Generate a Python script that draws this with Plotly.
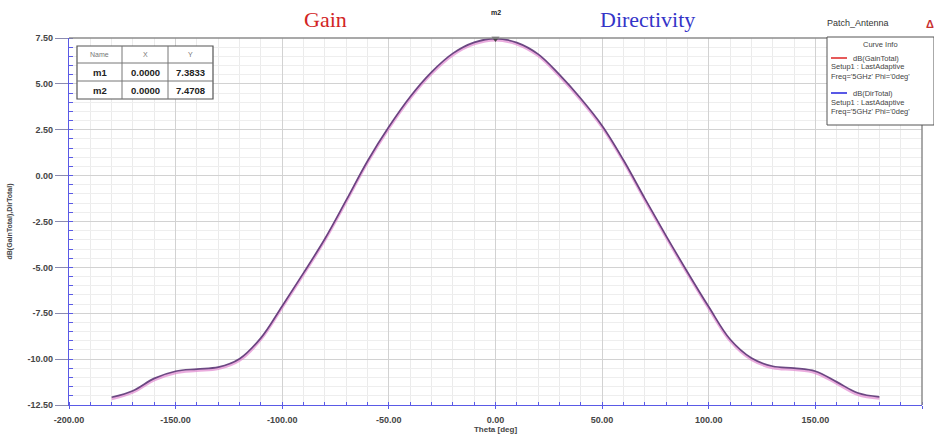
import plotly.graph_objects as go

# Far-field cut of the patch antenna, Phi = 0 deg, 5 GHz
theta_deg = [-180, -170, -160, -150, -140, -130, -120, -110, -100, -90,
             -80, -70, -60, -50, -40, -30, -20, -10, 0, 10,
             20, 30, 40, 50, 60, 70, 80, 90, 100, 110,
             120, 130, 140, 150, 160, 170, 180]

gain_total_db = [-12.17, -11.81, -11.14, -10.75, -10.63, -10.53, -10.07, -8.93, -7.19, -5.39,
                 -3.53, -1.43, 0.71, 2.57, 4.21, 5.55, 6.57, 7.17, 7.3833, 7.16,
                 6.53, 5.41, 4.11, 2.63, 0.76, -1.33, -3.37, -5.34, -7.24, -9.01,
                 -10.03, -10.48, -10.58, -10.75, -11.33, -11.94, -12.15]

dir_total_db = [-12.08, -11.72, -11.05, -10.66, -10.54, -10.44, -9.98, -8.84, -7.10, -5.30,
                -3.44, -1.34, 0.80, 2.66, 4.30, 5.64, 6.66, 7.26, 7.4708, 7.25,
                6.62, 5.50, 4.20, 2.72, 0.85, -1.24, -3.28, -5.25, -7.15, -8.92,
                -9.94, -10.39, -10.49, -10.66, -11.24, -11.85, -12.06]

# Marker table
marker_names = ["m1", "m2"]
marker_x = [0.0, 0.0]
marker_y = [7.3833, 7.4708]

# Axis ticks
x_ticks = [-200, -150, -100, -50, 0, 50, 100, 150, 200]
y_ticks = [7.5, 5.0, 2.5, 0.0, -2.5, -5.0, -7.5, -10.0, -12.5]

W, H = 934, 434
L, R, T, B = 69, 922, 38, 405  # plot area in page pixels


def px(x):
    return (x - L) / (R - L)


def py(y):
    return (B - y) / (B - T)


AXIS_BLUE = "#5a5ae6"
TXT = "#454545"
FONT = "Arial"


def note(text, x, y, size, color, xanchor="center", family=FONT):
    return dict(text=text, xref="paper", yref="paper", x=px(x), y=py(y),
                xanchor=xanchor, yanchor="middle", showarrow=False,
                font=dict(family=family, size=size, color=color))


fig = go.Figure()

fig.add_trace(go.Scatter(
    x=theta_deg, y=gain_total_db, mode="lines", name="dB(GainTotal)",
    line=dict(color="rgba(222,128,205,0.65)", width=2.6, shape="spline", smoothing=1.0),
    hoverinfo="x+y"))
fig.add_trace(go.Scatter(
    x=theta_deg, y=dir_total_db, mode="lines", name="dB(DirTotal)",
    line=dict(color="rgba(96,58,120,0.92)", width=1.7, shape="spline", smoothing=1.0),
    hoverinfo="x+y"))

# m2 marker on the directivity peak
fig.add_trace(go.Scatter(
    x=[marker_x[1]], y=[marker_y[1]], mode="markers",
    marker=dict(symbol="triangle-down", size=7, color="#444444"),
    cliponaxis=False, hoverinfo="skip"))

fig.update_layout(
    width=W, height=H,
    margin=dict(l=L, r=W - R, t=T, b=H - B),
    paper_bgcolor="white", plot_bgcolor="white",
    showlegend=False,
    font=dict(family=FONT, size=8, color=TXT),
)

fig.update_xaxes(
    range=[-200, 200], automargin=False,
    tickvals=x_ticks, ticktext=["<b>%.2f</b>" % v for v in x_ticks],
    tickfont=dict(family=FONT, size=9, color=TXT),
    ticklabelstandoff=3,
    showline=True, linecolor=AXIS_BLUE, linewidth=1.2,
    ticks="outside", ticklen=3, tickcolor=AXIS_BLUE,
    showgrid=True, gridcolor="#d2d2d2", gridwidth=1,
    minor=dict(dtick=10, showgrid=True, gridcolor="#ebebeb",
               ticks="inside", ticklen=3, tickcolor=AXIS_BLUE),
    zeroline=False,
    title=dict(text="<b>Theta [deg]</b>", font=dict(family=FONT, size=8, color=TXT), standoff=0),
)

fig.update_yaxes(
    range=[-12.5, 7.5], automargin=False,
    tickvals=y_ticks, ticktext=["<b>%.2f</b>" % v for v in y_ticks],
    tickfont=dict(family=FONT, size=9, color=TXT),
    showline=True, linecolor=AXIS_BLUE, linewidth=1.2,
    ticks="outside", ticklen=13, tickcolor="#8a8ab0",
    showgrid=True, gridcolor="#d2d2d2", gridwidth=1,
    minor=dict(dtick=0.5, showgrid=True, gridcolor="#eeeeee",
               ticks="inside", ticklen=4, tickcolor=AXIS_BLUE),
    zeroline=False,
    title=dict(text="<b>dB(GainTotal),DirTotal)</b>", font=dict(family=FONT, size=7, color=TXT), standoff=14),
)

shapes = []
annotations = []

# Frame: top and right borders
shapes.append(dict(type="line", xref="paper", yref="paper", x0=0, x1=1, y0=1, y1=1,
                   line=dict(color="#8c8c8c", width=1.5)))
shapes.append(dict(type="line", xref="paper", yref="paper", x0=1, x1=1, y0=0, y1=1,
                   line=dict(color="#8c8c8c", width=1.5)))

# Titles
annotations.append(note("Gain", 325, 20, 22, "#d22424", family="Liberation Serif"))
annotations.append(note("Directivity", 647, 20, 22, "#3434c8", family="Liberation Serif"))
annotations.append(note("Patch_Antenna", 858, 23, 9, "#333333"))
annotations.append(note("<b>Δ</b>", 930, 24, 11, "#c83030"))
annotations.append(note("<b>%s</b>" % marker_names[1], 496, 13, 7, "#222222"))

# Marker table
ty = [46, 63, 81, 99]
cols = [77, 122, 168, 213]
shapes.append(dict(type="rect", xref="paper", yref="paper",
                   x0=px(cols[0]), x1=px(cols[-1]), y0=py(ty[-1]), y1=py(ty[0]),
                   line=dict(color="#555555", width=1.2), fillcolor="white", layer="above"))
for yy in ty[1:-1]:
    shapes.append(dict(type="line", xref="paper", yref="paper", x0=px(cols[0]), x1=px(cols[-1]),
                       y0=py(yy), y1=py(yy), line=dict(color="#777777", width=1), layer="above"))
for xx in cols[1:-1]:
    shapes.append(dict(type="line", xref="paper", yref="paper", x0=px(xx), x1=px(xx),
                       y0=py(ty[-1]), y1=py(ty[0]), line=dict(color="#777777", width=1), layer="above"))
centers = [(cols[i] + cols[i + 1]) / 2 for i in range(3)]
for c, h in zip(centers, ["Name", "X", "Y"]):
    annotations.append(note(h, c, (ty[0] + ty[1]) / 2, 7, "#777777"))
for r, (nm, mx, my) in enumerate(zip(marker_names, marker_x, marker_y)):
    yc = (ty[r + 1] + ty[r + 2]) / 2
    for c, t in zip(centers, [nm, "%.4f" % mx, "%.4f" % my]):
        annotations.append(note("<b>%s</b>" % t, c, yc, 9.5, "#222222"))

# Curve info box
bx0, bx1, by0, by1 = 827, 934, 37, 125
shapes.append(dict(type="rect", xref="paper", yref="paper",
                   x0=px(bx0), x1=px(bx1), y0=py(by1), y1=py(by0),
                   line=dict(color="#555555", width=1), fillcolor="white", layer="above"))
annotations.append(note("Curve Info", 880, 45, 7.5, "#444444"))
entries = [("dB(GainTotal)", "#e03030", 58), ("dB(DirTotal)", "#3030e0", 93)]
for label, col, yl in entries:
    shapes.append(dict(type="line", xref="paper", yref="paper", x0=px(831), x1=px(847),
                       y0=py(yl), y1=py(yl), line=dict(color=col, width=1.6), layer="above"))
    annotations.append(note(label, 851, yl, 7.5, "#444444", xanchor="left"))
    annotations.append(note("Setup1 : LastAdaptive", 829, yl + 9, 7.5, "#444444", xanchor="left"))
    annotations.append(note("Freq='5GHz' Phi='0deg'", 829, yl + 18, 7.5, "#444444", xanchor="left"))

fig.update_layout(shapes=shapes, annotations=annotations)

fig.write_html("out.html")
